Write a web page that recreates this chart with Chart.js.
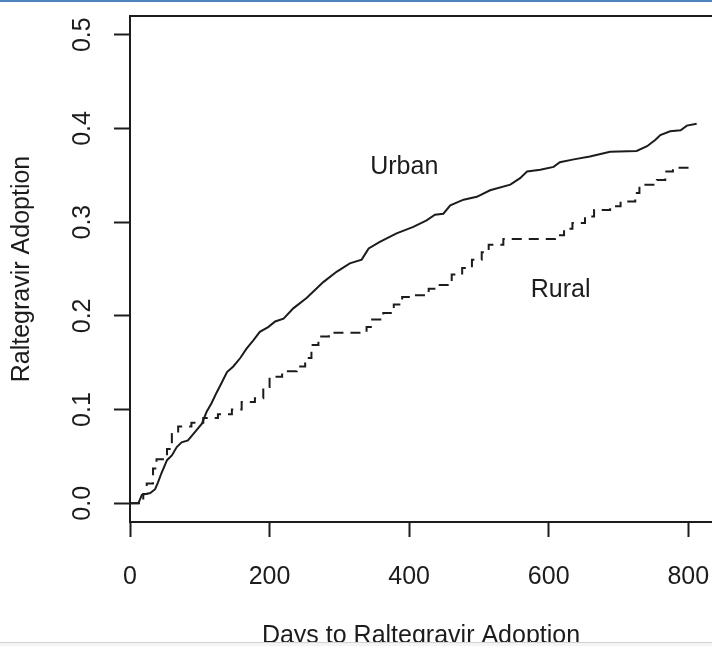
<!DOCTYPE html>
<html>
<head>
<meta charset="utf-8">
<script src="https://cdn.jsdelivr.net/npm/chart.js@4.4.1/dist/chart.umd.min.js"></script>
<style>
  html, body { margin: 0; padding: 0; background: #fff; overflow: hidden; }
  #wrap { position: relative; width: 712px; height: 646px; }
  #topbar { position: absolute; left: 0; top: 0; width: 712px; height: 2px; background: #4f81bd; }
  #bottombar { position: absolute; left: 0; top: 642px; width: 712px; height: 4px; background: #f4f4f4; border-top: 1px solid #d2d2d2; }
</style>
</head>
<body>
<div id="wrap">
  <canvas id="kmChart" width="712" height="646"></canvas>
  <div id="topbar"></div>
  <div id="bottombar"></div>
</div>
<script>
// cumulative adoption curves (days, share adopted)
const urbanDays = [0, 12, 17, 29, 36, 40, 45, 53, 60, 67, 74, 83, 93, 103, 110, 117, 124, 131, 139, 148,
    158, 167, 177, 186, 198, 208, 220, 234, 253, 277, 296, 315, 332, 342, 358, 382, 406, 425, 437, 449,
    459, 478, 497, 516, 545, 559, 569, 588, 607, 616, 636, 659, 688, 726, 741, 753, 760, 774, 789, 798, 812];
const urbanValues = [0, 0, 0.009, 0.011, 0.015, 0.022, 0.032, 0.046, 0.051, 0.060, 0.065, 0.067, 0.076, 0.085, 0.098, 0.107, 0.118, 0.128, 0.140, 0.146,
    0.155, 0.165, 0.174, 0.183, 0.188, 0.194, 0.197, 0.208, 0.219, 0.236, 0.247, 0.256, 0.260, 0.272, 0.279, 0.288, 0.295, 0.302, 0.308, 0.309,
    0.318, 0.324, 0.327, 0.334, 0.340, 0.347, 0.354, 0.356, 0.359, 0.364, 0.367, 0.370, 0.375, 0.376, 0.381, 0.388, 0.393, 0.397, 0.398, 0.403, 0.405];

const ruralDays = [0, 19, 24, 33, 38, 53, 60, 69, 88, 105, 126, 146, 160, 179, 191, 200, 218, 239, 251, 260,
    270, 285, 339, 347, 363, 378, 390, 405, 428, 440, 461, 476, 490, 504, 514, 535, 609, 622, 634, 652,
    665, 688, 703, 724, 730, 755, 767, 778, 810];
const ruralValues = [0, 0.010, 0.021, 0.037, 0.047, 0.058, 0.074, 0.082, 0.086, 0.091, 0.095, 0.100, 0.108, 0.112, 0.124, 0.135, 0.141, 0.146, 0.155, 0.169,
    0.178, 0.182, 0.188, 0.196, 0.203, 0.212, 0.220, 0.222, 0.229, 0.233, 0.244, 0.251, 0.260, 0.268, 0.276, 0.282, 0.286, 0.293, 0.299, 0.306,
    0.313, 0.317, 0.322, 0.331, 0.340, 0.345, 0.354, 0.358, 0.358];

const xTicks = [0, 200, 400, 600, 800];
const yTicks = [0, 0.1, 0.2, 0.3, 0.4, 0.5];

const curveLabels = [
    { text: "Urban", day: 393, value: 0.359 },
    { text: "Rural", day: 617, value: 0.228 },
];

const FONT = '"Liberation Sans", Arial, Helvetica, sans-serif';
const INK = "#1c1c1c";

function toPoints(days, values) {
    return days.map((d, i) => ({ x: d, y: values[i] }));
}

// box top edge, rotated y tick labels and the two curve names
const extras = {
    id: "extras",
    afterDraw(chart) {
        const { ctx, chartArea, scales } = chart;
        ctx.save();
        ctx.strokeStyle = INK;
        ctx.lineWidth = 2;
        ctx.beginPath();
        ctx.moveTo(chartArea.left, chartArea.top);
        ctx.lineTo(chartArea.right, chartArea.top);
        ctx.stroke();

        ctx.fillStyle = INK;
        ctx.font = "25px " + FONT;
        ctx.textAlign = "center";
        ctx.textBaseline = "middle";
        yTicks.forEach(v => {
            ctx.save();
            ctx.translate(83, scales.y.getPixelForValue(v));
            ctx.rotate(-Math.PI / 2);
            ctx.fillText(v.toFixed(1), 0, 0);
            ctx.restore();
        });
        curveLabels.forEach(l => {
            ctx.fillText(l.text, scales.x.getPixelForValue(l.day), scales.y.getPixelForValue(l.value));
        });
        ctx.restore();
    }
};

const ctx = document.getElementById("kmChart").getContext("2d");
new Chart(ctx, {
    type: "line",
    data: {
        datasets: [
            {
                label: "Urban",
                data: toPoints(urbanDays, urbanValues),
                borderColor: INK,
                borderWidth: 2,
                pointRadius: 0,
                tension: 0,
                fill: false,
            },
            {
                label: "Rural",
                data: toPoints(ruralDays, ruralValues),
                borderColor: INK,
                borderWidth: 2,
                borderDash: [10, 7],
                stepped: "before",
                pointRadius: 0,
                fill: false,
            },
        ],
    },
    options: {
        responsive: false,
        animation: false,
        layout: { padding: { top: 16, left: 0, right: 0, bottom: 0 } },
        plugins: {
            legend: { display: false },
            tooltip: { enabled: false },
        },
        scales: {
            x: {
                type: "linear",
                min: 0,
                max: 834,
                afterBuildTicks: s => { s.ticks = xTicks.map(v => ({ value: v })); },
                afterFit: s => { s.height = 124; s.paddingLeft = 0; s.paddingRight = 0; },
                grid: { drawOnChartArea: false, drawTicks: true, tickLength: 15, tickWidth: 2, tickColor: INK },
                border: { display: true, color: INK, width: 2 },
                ticks: { color: INK, font: { family: FONT, size: 25 }, padding: 25, maxRotation: 0 },
                title: {
                    display: true,
                    text: "Days to Raltegravir Adoption",
                    color: INK,
                    font: { family: FONT, size: 25 },
                    padding: { top: 0, bottom: -5 },
                },
            },
            y: {
                type: "linear",
                min: -0.02,
                max: 0.52,
                afterBuildTicks: s => { s.ticks = yTicks.map(v => ({ value: v })); },
                afterFit: s => { s.width = 130; s.paddingTop = 0; s.paddingBottom = 0; },
                grid: { drawOnChartArea: false, drawTicks: true, tickLength: 16, tickWidth: 2, tickColor: INK },
                border: { display: true, color: INK, width: 2 },
                ticks: { display: false },
                title: {
                    display: true,
                    text: "Raltegravir Adoption",
                    color: INK,
                    font: { family: FONT, size: 25 },
                    padding: { top: 7, bottom: 0 },
                },
            },
        },
    },
    plugins: [extras],
});
</script>
</body>
</html>
